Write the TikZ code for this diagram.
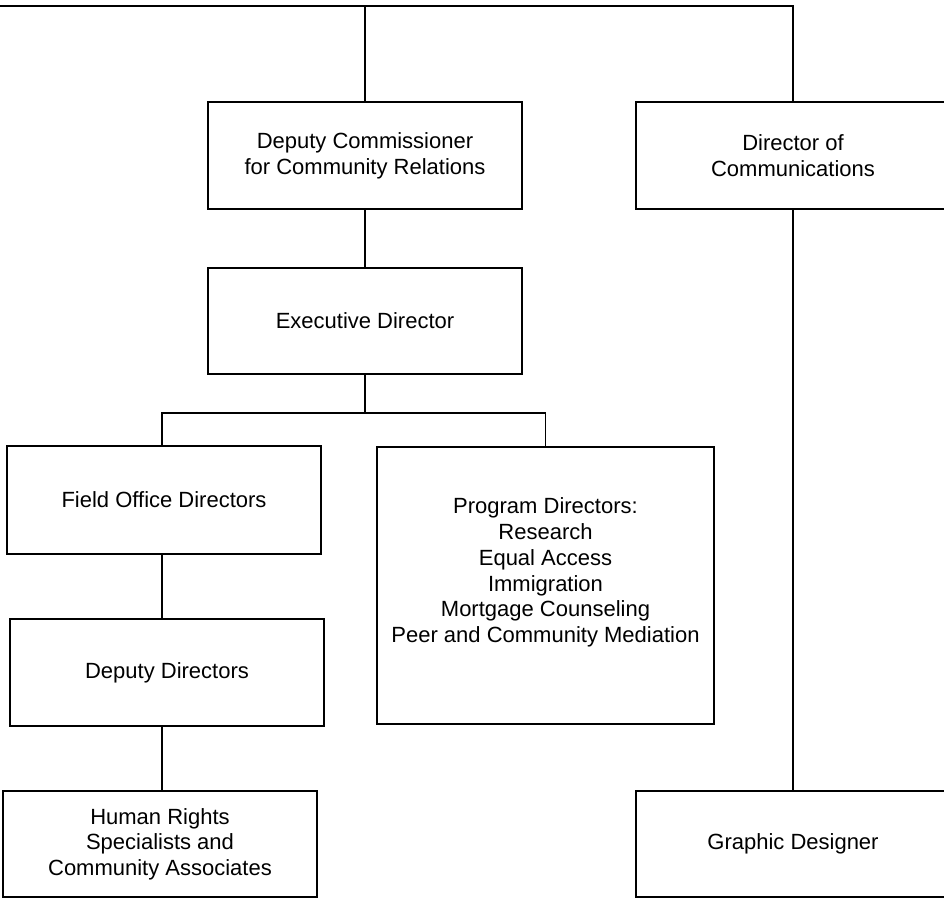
\documentclass[tikz,border=0pt]{standalone}
\usepackage{fontspec}
\setmainfont{Liberation Sans}
\usetikzlibrary{calc}

\begin{document}
\begin{tikzpicture}[x=1pt,y=-1pt,line width=1.4pt,
    boxfont/.style={font=\fontsize{22}{25.7}\selectfont},
    orgbox/.style={draw,rectangle,boxfont,align=center,inner sep=0pt,
        minimum width=314pt,minimum height=107pt}]

            \useasboundingbox (0,0) rectangle (944,899);

            \coordinate (top) at (0,6);
            \coordinate (split) at (162,413);

            \node[orgbox] (dcr) at (365,155.5) {Deputy Commissioner\\for Community Relations};
            \node[orgbox] (doc) at (793,155.5) {Director of\\Communications};
            \node[orgbox,minimum height=106pt] (exec) at (365,321) {Executive Director};
            \node[orgbox,minimum height=108pt] (field) at (164,500) {Field Office Directors};
            \node[orgbox,minimum width=337pt,minimum height=277pt] (prog) at (545.5,585.5) {};
            \node[boxfont,align=center] (progtext) at (545.5,572.5)
                {Program Directors:\\Research\\Equal Access\\Immigration\\Mortgage Counseling\\Peer and Community Mediation};
            \node[orgbox] (depdir) at (167,672.5) {Deputy Directors};
            \node[orgbox,minimum height=106pt] (hrs) at (160,844) {Human Rights\\Specialists and\\Community Associates};
            \node[orgbox,minimum height=106pt] (gd) at (793,844) {Graphic Designer};

            \draw (top) -- (top -| doc.north) -- (doc.north);
            \draw (top -| dcr.north) -- (dcr.north);
            \draw (dcr.south) -- (exec.north);
            \draw (exec.south) -- (exec.south |- split);
            \draw (split |- field.north) -- (split) -- (split -| prog.north) -- (prog.north);
            \draw (field.south -| split) -- (split |- depdir.north);
            \draw (depdir.south -| split) -- (split |- hrs.north);
            \draw (doc.south) -- (gd.north);
        \end{tikzpicture}
\end{document}
